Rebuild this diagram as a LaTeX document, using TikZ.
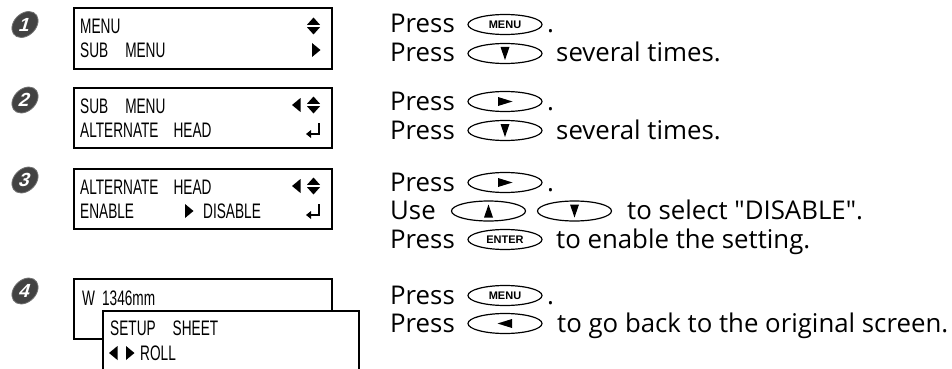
\documentclass[tikz,border=0pt]{standalone}
\usepackage{fontspec}
\setmainfont{Open Sans}
\newfontfamily\rtfont{Open Sans}
\newfontfamily\lcdfont[FakeStretch=0.65]{Liberation Sans}
\newfontfamily\keyfont{Liberation Sans}
\usetikzlibrary{shapes.geometric}
\begin{document}
\begin{tikzpicture}[x=1pt,y=-1pt,
  lcd/.style={draw, line width=2.2pt, fill=white, inner sep=0pt, anchor=north west},
  lcdtxt/.style={anchor=base west, inner sep=0pt, font=\lcdfont\fontsize{21}{21}\selectfont},
  txt/.style={anchor=base west, inner sep=0pt, font=\rtfont\fontsize{25.8}{26}\selectfont},
  keybtn/.style={draw, ellipse, line width=1.2pt, minimum width=74pt, minimum height=20pt, inner sep=0pt, font=\keyfont\bfseries\fontsize{11}{11}\selectfont},
  marker/.style={ellipse, draw=black!55, line width=0.8pt, fill=black!74, text=white, minimum width=25pt, minimum height=26pt, inner sep=0pt, xslant=0.3, font=\keyfont\bfseries\fontsize{19}{19}\selectfont},
  updown/.pic={\fill (-6.5,-1.2) -- (6.5,-1.2) -- (0,-8.5) -- cycle; \fill (-6.5,1.2) -- (6.5,1.2) -- (0,8.5) -- cycle;},
  rtri/.pic={\fill (-4,-7) -- (4.5,0) -- (-4,7) -- cycle;},
  ltri/.pic={\fill (4,-7) -- (-4.5,0) -- (4,7) -- cycle;},
  retarrow/.pic={\draw[line width=1.4pt] (6,-7) -- (6,4) -- (-3,4); \fill (-7,4) -- (-2,0) -- (-2,8) -- cycle;},
  bdown/.pic={\fill (-4.5,-6.5) -- (4.5,-6.5) -- (0,6.5) -- cycle;},
  bup/.pic={\fill (-4.5,6.5) -- (4.5,6.5) -- (0,-6.5) -- cycle;},
  bright/.pic={\fill (-7,-4.5) -- (7.5,0) -- (-7,4.5) -- cycle;},
  bleft/.pic={\fill (7,-4.5) -- (-7.5,0) -- (7,4.5) -- cycle;}
]
\useasboundingbox (0,0) rectangle (952,369);
\clip (0,0) rectangle (952,369);

% step markers
\begin{scope}[shift={(25,24.5)}]\node[marker] (m1) at (0,0) {1};\end{scope}
\begin{scope}[shift={(25,100)}]\node[marker] (m2) at (0,0) {2};\end{scope}
\begin{scope}[shift={(25,180)}]\node[marker] (m3) at (0,0) {3};\end{scope}
\begin{scope}[shift={(25,291)}]\node[marker] (m4) at (0,0) {4};\end{scope}

% LCD 1
\node[lcd, minimum width=258pt, minimum height=61pt] (d1) at (73,7) {};
\node[lcdtxt] (d1a) at (80,34) {MENU};
\node[lcdtxt] (d1b) at (80,58) {SUB\hspace{17pt}MENU};
\pic at (313.5,26) {updown};
\pic at (316,50) {rtri};

% LCD 2
\node[lcd, minimum width=258pt, minimum height=60pt] (d2) at (73,87) {};
\node[lcdtxt] (d2a) at (80,113) {SUB\hspace{17pt}MENU};
\node[lcdtxt] (d2b) at (80,137) {ALTERNATE\hspace{15pt}HEAD};
\pic at (296.5,105) {ltri};
\pic at (313.5,105) {updown};
\pic at (313,130) {retarrow};

% LCD 3
\node[lcd, minimum width=258pt, minimum height=60pt] (d3) at (73,168) {};
\node[lcdtxt] (d3a) at (80,194) {ALTERNATE\hspace{15pt}HEAD};
\node[lcdtxt] (d3b) at (80,218) {ENABLE};
\node[lcdtxt] (d3c) at (203,218) {DISABLE};
\pic at (189,211) {rtri};
\pic at (296.5,186) {ltri};
\pic at (313.5,186) {updown};
\pic at (313,211) {retarrow};

% LCD 4
\node[lcd, minimum width=258pt, minimum height=60pt] (d4) at (73,278) {};
\node[lcdtxt] (d4a) at (82,305) {W\hspace{7pt}1346mm};
\node[lcd, minimum width=256pt, minimum height=90pt] (d4i) at (102,310) {};
\node[lcdtxt] (d4b) at (110,335) {SETUP\hspace{17pt}SHEET};
\node[lcdtxt] (d4c) at (140,360) {ROLL};
\pic at (113.5,353) {ltri};
\pic at (130,353) {rtri};

% step 1
\node[txt] (p1a) at (390,33) {Press};
\node[keybtn] (k1a) at (505,24.5) {MENU};
\node[txt] (e1a) at (547,33) {.};
\node[txt] (p1b) at (390,62) {Press};
\node[keybtn] (k1b) at (505,53.5) {};
\pic at (k1b) {bdown};
\node[txt] (e1b) at (556,62) {several times.};

% step 2
\node[txt] (p2a) at (390,110) {Press};
\node[keybtn] (k2a) at (505,101.5) {};
\pic at (k2a) {bright};
\node[txt] (e2a) at (547,110) {.};
\node[txt] (p2b) at (390,139) {Press};
\node[keybtn] (k2b) at (505,130.5) {};
\pic at (k2b) {bdown};
\node[txt] (e2b) at (556,139) {several times.};

% step 3
\node[txt] (p3a) at (390,191) {Press};
\node[keybtn] (k3a) at (505,182.5) {};
\pic at (k3a) {bright};
\node[txt] (e3a) at (547,191) {.};
\node[txt] (p3b) at (390,219.5) {Use};
\node[keybtn] (k3b) at (488.5,211) {};
\pic at (k3b) {bup};
\node[keybtn] (k3c) at (574.5,211) {};
\pic at (k3c) {bdown};
\node[txt] (e3b) at (627,219.5) {to select "DISABLE".};
\node[txt] (p3c) at (390,248) {Press};
\node[keybtn] (k3d) at (505,239.5) {ENTER};
\node[txt] (e3c) at (556,248) {to enable the setting.};

% step 4
\node[txt] (p4a) at (390,304) {Press};
\node[keybtn] (k4a) at (505,295.5) {MENU};
\node[txt] (e4a) at (547,304) {.};
\node[txt] (p4b) at (390,332) {Press};
\node[keybtn] (k4b) at (505,323.5) {};
\pic at (k4b) {bleft};
\node[txt] (e4b) at (557,332) {to go back to the original screen.};
\end{tikzpicture}
\end{document}
